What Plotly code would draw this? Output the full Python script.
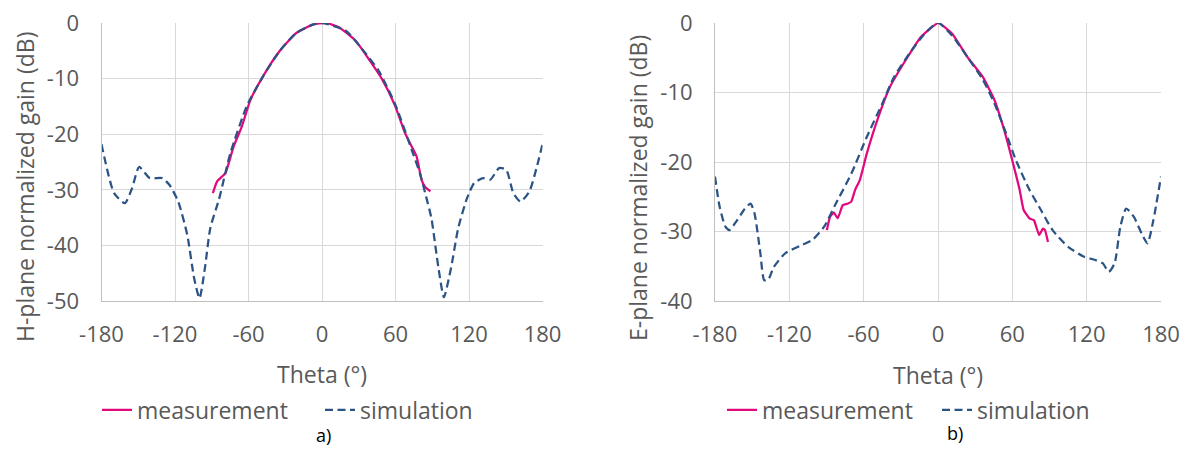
import plotly.graph_objects as go

# ---------------- data ----------------
theta_ticks = [-180, -120, -60, 0, 60, 120, 180]
theta_tick_labels = ["-180", "-120", "-60", "0", "60", "120", "180"]
h_gain_ticks = [0, -10, -20, -30, -40, -50]
h_gain_tick_labels = ["0", "-10", "-20", "-30", "-40", "-50"]
e_gain_ticks = [0, -10, -20, -30, -40]
e_gain_tick_labels = ["0", "-10", "-20", "-30", "-40"]

# H-plane (a)
h_sim_theta = [-180, -169.7, -161, -155, -149.3, -140.6, -130.4, -124.6, -117.4, -110, -104.3, -100,
               -95.6, -91.2, -84.2, -80.2, -74.8, -61.3, -47.9, -34.4, -21.0, -7.5, 0, 19.4, 32.8,
               46.3, 59.7, 73.2, 79.9, 85.3, 89.3, 95.1, 99.5, 105.3, 111.2, 118.4, 124.2, 131.5,
               137.3, 144.6, 150.4, 156.2, 162, 169.3, 175.1, 180]
h_sim_gain = [-21.8, -30.6, -32.4, -29.7, -25.9, -27.9, -27.9, -29.1, -32.1, -38.1, -46, -49.5,
              -44.1, -36.9, -31.8, -28.2, -23.4, -14.9, -9.5, -5.0, -1.8, -0.3, 0, -1.4, -4.7,
              -8.6, -14.6, -22.8, -27.0, -31.5, -35.1, -44.1, -49.3, -44.1, -36.9, -31.5, -28.8, -27.9,
              -28.2, -26.1, -26.4, -30.6, -32.1, -30.3, -26.1, -21.8]
h_meas_theta = [-89.1, -85.6, -81.5, -78.8, -72.1, -65.4, -58.7, -47.9, -34.4, -21.0, -7.5, 3.2,
                14, 27.4, 38.2, 49, 59.7, 67.8, 73.2, 77.2, 81.3, 83.9, 88.5]
h_meas_gain = [-30.6, -28.5, -27.6, -27.0, -22.2, -18.6, -14.0, -9.5, -5.0, -1.8, -0.3, 0,
               -0.8, -3.2, -6.5, -10.1, -14.9, -19.8, -22.2, -24.0, -28.2, -29.4, -30.3]

# E-plane (b)
e_sim_theta = [-180, -176.3, -171.6, -168.4, -162.2, -155.9, -151.3, -148.1, -143.4, -140.3, -137.2,
               -132.5, -123.1, -110.6, -101.3, -91.9, -82.5, -70, -57.5, -45, -35.6, -23.1, -10.6, 0,
               11.3, 23.8, 36.3, 45.6, 55, 62.8, 73.8, 83.1, 92.5, 105, 117.5, 126.9, 133.1, 137.8,
               142.5, 147.2, 151.9, 158.1, 164.4, 169.1, 173.8, 180]
e_sim_gain = [-22.1, -26.4, -29.3, -29.8, -28.4, -26.7, -26.0, -27.4, -33.1, -37.0, -37.0,
              -35.1, -33.1, -32.0, -31.2, -29.3, -26.0, -21.7, -16.4, -11.6, -7.8, -4.4, -1.5, 0,
              -1.8, -4.9, -8.2, -11.6, -15.9, -19.7, -24.0, -26.9, -29.8, -32.2, -33.6, -34.1, -34.6, -35.8,
              -34.6, -29.3, -26.7, -27.9, -30.3, -31.7, -28.4, -22.1]
e_meas_theta = [-89.7, -87.2, -84.1, -80.9, -76.9, -73.1, -70, -66.9, -63.1, -57.5, -48.1, -38.8,
                -26.3, -13.8, 0.3, 11.3, 23.8, 36.3, 45.6, 53.4, 61.3, 65.9, 69.1, 73.8, 77.5,
                81.6, 84.7, 86.3, 88.8]
e_meas_gain = [-29.8, -27.9, -27.3, -28.1, -26.2, -26.0, -25.7, -24.0, -22.6, -18.8, -13.5, -9.2,
               -5.4, -2.0, 0, -1.5, -4.9, -7.8, -11.1, -15.4, -20.7, -24.0, -26.9, -28.1, -28.4,
               -30.5, -29.6, -29.8, -31.5]

# ---------------- style ----------------
W, H = 1190, 449
FONT = "Open Sans"
GREY = "#595959"
MEAS_COLOR = "#E2097E"
SIM_COLOR = "#2B5485"
GRID = "#D9D9D9"
AXLINE = "#BFBFBF"
SIM_DASH = "8px,4.5px"


def px_x(p):
    return p / W


def px_y(p):
    return 1 - p / H


fig = go.Figure()

fig.add_trace(go.Scatter(x=h_meas_theta, y=h_meas_gain, mode="lines", name="measurement",
                         line=dict(color=MEAS_COLOR, width=2.25, shape="spline", smoothing=0.5),
                         xaxis="x", yaxis="y", legend="legend"))
fig.add_trace(go.Scatter(x=h_sim_theta, y=h_sim_gain, mode="lines", name="simulation",
                         line=dict(color=SIM_COLOR, width=2.25, dash=SIM_DASH, shape="spline", smoothing=0.6),
                         xaxis="x", yaxis="y", legend="legend"))
fig.add_trace(go.Scatter(x=e_meas_theta, y=e_meas_gain, mode="lines", name="measurement",
                         line=dict(color=MEAS_COLOR, width=2.25, shape="spline", smoothing=0.4),
                         xaxis="x2", yaxis="y2", legend="legend2"))
fig.add_trace(go.Scatter(x=e_sim_theta, y=e_sim_gain, mode="lines", name="simulation",
                         line=dict(color=SIM_COLOR, width=2.25, dash=SIM_DASH, shape="spline", smoothing=0.6),
                         xaxis="x2", yaxis="y2", legend="legend2"))

xcommon = dict(range=[-180, 180], tickvals=theta_ticks, ticktext=theta_tick_labels,
               showgrid=True, gridcolor=GRID, gridwidth=1, automargin=False,
               zeroline=False, showline=True, linecolor=AXLINE, linewidth=1, ticks="",
               ticklabelstandoff=14, tickfont=dict(family=FONT, size=22, color=GREY))
ycommon = dict(showgrid=True, gridcolor=GRID, gridwidth=1, zeroline=False, showline=True,
               automargin=False, linecolor=AXLINE, linewidth=1, ticks="", ticklabelstandoff=17,
               tickfont=dict(family=FONT, size=22, color=GREY))

ydom = [px_y(301), px_y(23)]
fig.update_layout(
    template="none",
    width=W, height=H,
    margin=dict(l=0, r=0, t=0, b=0, pad=0, autoexpand=False),
    paper_bgcolor="white", plot_bgcolor="white",
    font=dict(family=FONT, color=GREY),
    xaxis=dict(domain=[px_x(101.5), px_x(542.5)], anchor="y", **xcommon),
    yaxis=dict(domain=ydom, anchor="x", range=[-50, 0], tickvals=h_gain_ticks,
               ticktext=h_gain_tick_labels, **ycommon),
    xaxis2=dict(domain=[px_x(715), px_x(1161)], anchor="y2", **xcommon),
    yaxis2=dict(domain=ydom, anchor="x2", range=[-40, 0], tickvals=e_gain_ticks,
                ticktext=e_gain_tick_labels, **ycommon),
    legend=dict(orientation="h", x=px_x(97), y=px_y(410), xanchor="left", yanchor="middle",
                font=dict(family=FONT, size=23, color=GREY), bgcolor="rgba(0,0,0,0)",
                entrywidth=178, entrywidthmode="pixels", itemwidth=30, tracegroupgap=0),
    legend2=dict(orientation="h", x=px_x(722), y=px_y(410), xanchor="left", yanchor="middle",
                 font=dict(family=FONT, size=23, color=GREY), bgcolor="rgba(0,0,0,0)",
                 entrywidth=170, entrywidthmode="pixels", itemwidth=30, tracegroupgap=0),
    showlegend=True,
)

annotations = [
    dict(text="Theta (°)", x=px_x(322), y=px_y(374), xref="paper", yref="paper",
         showarrow=False, font=dict(family=FONT, size=23, color=GREY), xanchor="center", yanchor="middle"),
    dict(text="Theta (°)", x=px_x(938), y=px_y(375), xref="paper", yref="paper",
         showarrow=False, font=dict(family=FONT, size=23, color=GREY), xanchor="center", yanchor="middle"),
    dict(text="H-plane normalized gain (dB)", x=px_x(25), y=px_y(187), xref="paper", yref="paper",
         textangle=-90, showarrow=False, font=dict(family=FONT, size=23, color=GREY),
         xanchor="center", yanchor="middle"),
    dict(text="E-plane normalized gain (dB)", x=px_x(638), y=px_y(188), xref="paper", yref="paper",
         textangle=-90, showarrow=False, font=dict(family=FONT, size=23, color=GREY),
         xanchor="center", yanchor="middle"),
    dict(text="a)", x=px_x(323), y=px_y(435), xref="paper", yref="paper", showarrow=False,
         font=dict(family=FONT, size=18, color="black"), xanchor="center", yanchor="middle"),
    dict(text="b)", x=px_x(955), y=px_y(433), xref="paper", yref="paper", showarrow=False,
         font=dict(family=FONT, size=18, color="black"), xanchor="center", yanchor="middle"),
]
fig.update_layout(annotations=annotations)

fig.write_html("out.html", config={"displayModeBar": False},
               post_script="document.body.style.margin='0px';")
